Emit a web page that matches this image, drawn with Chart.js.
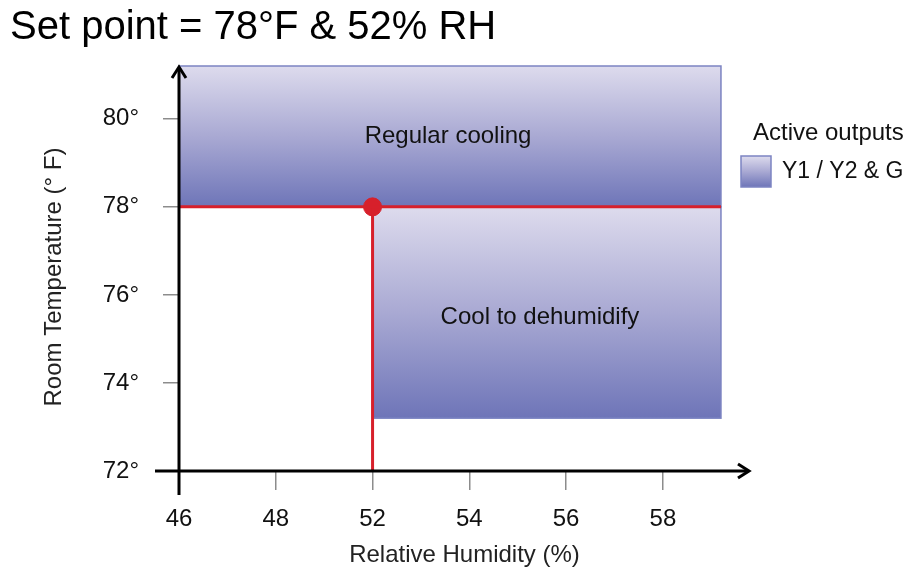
<!DOCTYPE html>
<html>
<head>
<meta charset="utf-8">
<script src="https://cdn.jsdelivr.net/npm/chart.js@4.4.1/dist/chart.umd.min.js"></script>
<style>
  html, body { margin: 0; padding: 0; background: #ffffff; }
  #wrap { width: 909px; height: 573px; }
</style>
</head>
<body>
<div id="wrap"><canvas id="c" width="909" height="573"></canvas></div>
<script>
// ---- data ----
const chartTitle = "Set point = 78°F & 52% RH";
const xTickLabels = [46, 48, 52, 54, 56, 58];      // humidity tick labels (as printed)
const yTickValues = [72, 74, 76, 78, 80];           // temperature ticks
const xAxisMax = 59.8;                              // humidity at arrow tip
const yAxisMin = 72;
const yAxisMax = 81.2;
const setPointHumidity = [52];
const setPointTemp = [78];
const regionNames = ["Regular cooling", "Cool to dehumidify"];
const regionHumFrom = [46, 52];
const regionHumTo = [59.2, 59.2];
const regionTempFrom = [78, 73.2];
const regionTempTo = [81.2, 78];
const regionLabelHum = [53.56, 55.46];
const regionLabelTemp = [79.6, 75.5];
const legendTitle = "Active outputs";
const legendLabel = "Y1 / Y2 & G";

// map printed humidity to evenly spaced axis position
function hpos(h) {
  const t = xTickLabels;
  if (h <= t[0]) return (h - t[0]) / (t[1] - t[0]);
  for (let i = 0; i < t.length - 1; i++) {
    if (h <= t[i + 1]) return i + (h - t[i]) / (t[i + 1] - t[i]);
  }
  const n = t.length - 1;
  return n + (h - t[n]) / (t[n] - t[n - 1]);
}

const FONT = "'Liberation Sans', Arial, sans-serif";
const RED = '#d7202b';

function makeGradient(ctx, yTop, yBot) {
  const g = ctx.createLinearGradient(0, yTop, 0, yBot);
  g.addColorStop(0, '#dddbed');
  g.addColorStop(0.5, '#a9a9d3');
  g.addColorStop(1, '#6e75b8');
  return g;
}

const drawPlugin = {
  id: 'drawPlugin',
  beforeDatasetsDraw(chart) {
    const {ctx, scales: {x, y}} = chart;
    ctx.save();
    // regions
    for (let i = 0; i < regionNames.length; i++) {
      const x0 = x.getPixelForValue(hpos(regionHumFrom[i]));
      const x1 = x.getPixelForValue(hpos(regionHumTo[i]));
      const y0 = y.getPixelForValue(regionTempTo[i]);
      const y1 = y.getPixelForValue(regionTempFrom[i]);
      ctx.fillStyle = makeGradient(ctx, y0, y1);
      ctx.fillRect(x0, y0, x1 - x0, y1 - y0);
      ctx.strokeStyle = '#7c84c2';
      ctx.lineWidth = 1.5;
      ctx.strokeRect(x0, y0, x1 - x0, y1 - y0);
    }
    // region labels
    ctx.fillStyle = '#111111';
    ctx.font = "24px " + FONT;
    ctx.textAlign = 'center';
    ctx.textBaseline = 'middle';
    for (let i = 0; i < regionNames.length; i++) {
      ctx.fillText(regionNames[i], x.getPixelForValue(hpos(regionLabelHum[i])), y.getPixelForValue(regionLabelTemp[i]));
    }
    ctx.restore();
  },
  afterDraw(chart) {
    const {ctx, scales: {x, y}, chartArea: a} = chart;
    ctx.save();
    // axes
    const ax = x.getPixelForValue(hpos(xTickLabels[0]));
    const ay = y.getPixelForValue(yAxisMin);
    ctx.strokeStyle = '#000000';
    ctx.fillStyle = '#000000';
    ctx.lineWidth = 3;
    ctx.lineCap = 'butt';
    ctx.beginPath();
    ctx.moveTo(ax, ay + 24);
    ctx.lineTo(ax, a.top + 2);
    ctx.moveTo(ax - 24, ay);
    ctx.lineTo(a.right - 2, ay);
    ctx.stroke();
    // arrow heads
    ctx.lineWidth = 3;
    ctx.lineJoin = 'miter';
    ctx.beginPath();
    ctx.moveTo(ax - 7, a.top + 12);
    ctx.lineTo(ax, a.top + 1);
    ctx.lineTo(ax + 7, a.top + 12);
    ctx.moveTo(a.right - 12, ay - 7);
    ctx.lineTo(a.right - 1, ay);
    ctx.lineTo(a.right - 12, ay + 7);
    ctx.stroke();
    // title
    ctx.font = "40px " + FONT;
    ctx.textAlign = 'left';
    ctx.textBaseline = 'alphabetic';
    ctx.fillStyle = '#000000';
    ctx.fillText(chartTitle, 10, 39);
    // y axis title
    ctx.save();
    ctx.translate(54, 277);
    ctx.rotate(-Math.PI / 2);
    ctx.font = "24px " + FONT;
    ctx.fillStyle = '#222222';
    ctx.textAlign = 'center';
    ctx.textBaseline = 'middle';
    ctx.fillText(y.options.title.text, 0, 0);
    ctx.restore();
    // legend
    ctx.font = "24px " + FONT;
    ctx.fillStyle = '#111111';
    ctx.textAlign = 'left';
    ctx.textBaseline = 'middle';
    ctx.fillText(legendTitle, 753, 133);
    const g = makeGradient(ctx, 156, 187);
    ctx.fillStyle = g;
    ctx.fillRect(741, 156, 30, 31);
    ctx.strokeStyle = '#7c84c2';
    ctx.lineWidth = 1.5;
    ctx.strokeRect(741, 156, 30, 31);
    ctx.fillStyle = '#111111';
    ctx.font = "23px " + FONT;
    ctx.fillText(legendLabel, 782, 172);
    ctx.restore();
  }
};

const ctx = document.getElementById('c').getContext('2d');
new Chart(ctx, {
  type: 'scatter',
  data: {
    datasets: [
      {
        type: 'line',
        label: 'setpoint temp',
        data: [
          {x: hpos(xTickLabels[0]), y: setPointTemp[0]},
          {x: hpos(regionHumTo[0]), y: setPointTemp[0]}
        ],
        borderColor: RED, borderWidth: 3, pointRadius: 0, fill: false
      },
      {
        type: 'line',
        label: 'setpoint humidity',
        data: [
          {x: hpos(setPointHumidity[0]), y: setPointTemp[0]},
          {x: hpos(setPointHumidity[0]), y: yAxisMin}
        ],
        borderColor: RED, borderWidth: 3, pointRadius: 0, fill: false
      },
      {
        label: 'setpoint',
        data: [{x: hpos(setPointHumidity[0]), y: setPointTemp[0]}],
        backgroundColor: RED, borderColor: RED, pointRadius: 9, pointHoverRadius: 9
      }
    ]
  },
  options: {
    responsive: false,
    animation: false,
    devicePixelRatio: 1,
    layout: { padding: { top: 66, right: 159, left: 0, bottom: 0 } },
    plugins: { legend: { display: false }, title: { display: false }, tooltip: { enabled: false } },
    scales: {
      x: {
        type: 'linear',
        min: hpos(xTickLabels[0]),
        max: hpos(xAxisMax),
        afterFit(s) { s.height = 102; },
        afterBuildTicks(s) { s.ticks = xTickLabels.map((v) => ({value: hpos(v)})); },
        ticks: {
          callback: (v) => { const i = Math.round(v); return xTickLabels[i] !== undefined ? String(xTickLabels[i]) : ''; },
          font: { size: 24, family: FONT }, color: '#111111', padding: 15, maxRotation: 0
        },
        grid: { display: true, drawOnChartArea: false, drawTicks: true, tickLength: 19, color: '#8c8c8c', lineWidth: 1.5 },
        border: { display: false },
        title: { display: true, text: 'Relative Humidity (%)', font: { size: 24, family: FONT }, color: '#222222', padding: { top: 0, bottom: 3 } }
      },
      y: {
        type: 'linear',
        min: yAxisMin,
        max: yAxisMax,
        afterFit(s) { s.width = 179; },
        afterBuildTicks(s) { s.ticks = yTickValues.map((v) => ({value: v})); },
        ticks: {
          callback: (v) => v + '°',
          font: { size: 24, family: FONT }, color: '#111111', padding: 24
        },
        grid: { display: true, drawOnChartArea: false, drawTicks: true, tickLength: 16, color: '#8c8c8c', lineWidth: 1.5 },
        border: { display: false },
        title: { display: false, text: 'Room Temperature (° F)' }
      }
    }
  },
  plugins: [drawPlugin]
});
</script>
</body>
</html>
